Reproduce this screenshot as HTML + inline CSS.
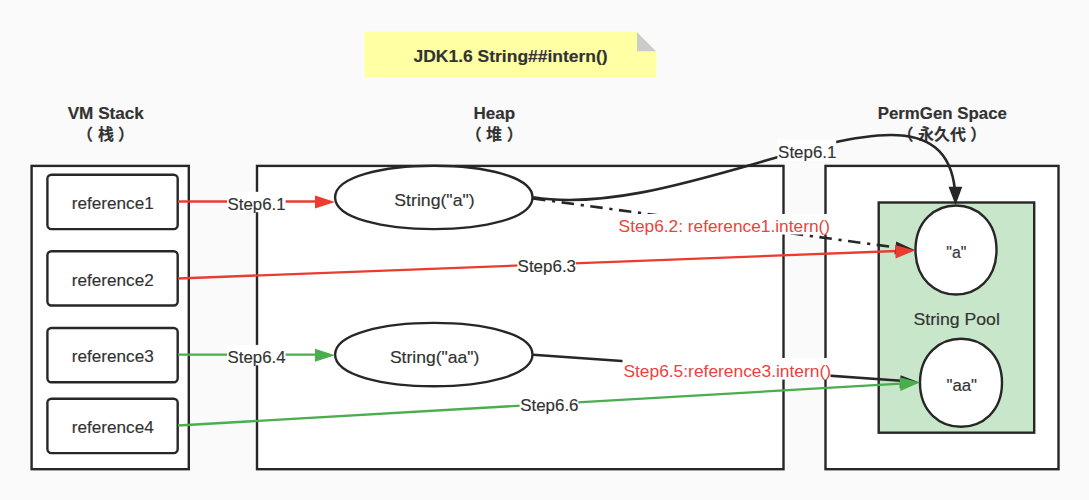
<!DOCTYPE html>
<html>
<head>
<meta charset="utf-8">
<title>JDK1.6 String##intern()</title>
<style>
html,body{margin:0;padding:0;background:#fafafa;}
body{width:1089px;height:500px;overflow:hidden;}
svg{display:block;}
text{font-family:"Liberation Sans","Noto Sans CJK SC",sans-serif;fill:#323232;stroke:#323232;stroke-width:0.15px;font-size:16.6px;}
.b{font-weight:bold;}
.c{font-weight:bold;font-size:16px;}
.r{fill:#e8443c;stroke:none;}
.box{fill:#fff;stroke:#272727;stroke-width:2.4;}
.ln{fill:none;stroke-width:2.3;}
.k{stroke-width:2.6;}
</style>
</head>
<body>
<svg width="1089" height="500" viewBox="0 0 1089 500">
<rect width="1089" height="500" fill="#fafafa"/>

<!-- title note -->
<polygon points="364.3,31.8 636.8,31.8 656.4,51.4 656.4,77.3 364.3,77.3" fill="#ffffa3"/>
<polygon points="637,32.2 637,51.2 656,51.2" fill="#cbcbcb"/>

<!-- header second lines -->
<text class="c" x="77.1 98 117.9" y="139.5">（栈）</text>
<text class="c" x="465.7 486 506.8" y="139.5">（堆）</text>
<text class="c" x="897.4 918 934 950 970.3" y="139.5">（永久代）</text>

<!-- containers -->
<rect class="box" x="31.6" y="165.9" width="157.2" height="303.3"/>
<rect class="box" x="257" y="165.9" width="526.5" height="303.3"/>
<rect class="box" x="825.5" y="165.9" width="233" height="303.3"/>
<rect class="box" x="878.7" y="202.5" width="155.5" height="230.2" style="fill:#c8e6c9"/>

<!-- stack refs -->
<rect class="box" x="47.4" y="174.8" width="130.3" height="54.3" rx="4"/>
<rect class="box" x="47.4" y="251.2" width="130.3" height="54.3" rx="4"/>
<rect class="box" x="47.4" y="328.0" width="130.3" height="54.3" rx="4"/>
<rect class="box" x="47.4" y="398.8" width="130.3" height="54.3" rx="4"/>

<!-- heap ellipses -->
<path class="box" d="M335.10,197.40 C335.10,155.13 532.50,155.13 532.50,197.40 C532.50,239.67 335.10,239.67 335.10,197.40 Z"/>
<path class="box" d="M335.10,354.60 C335.10,312.33 532.50,312.33 532.50,354.60 C532.50,396.87 335.10,396.87 335.10,354.60 Z"/>

<!-- pool circles -->
<path class="box" d="M915.50,250.00 C915.50,190.67 996.50,190.67 996.50,250.00 C996.50,309.33 915.50,309.33 915.50,250.00 Z"/>
<path class="box" d="M920.00,382.80 C920.00,324.13 1002.00,324.13 1002.00,382.80 C1002.00,441.47 920.00,441.47 920.00,382.80 Z"/>

<text class="b" x="413.50" y="62.00" textLength="194.15" lengthAdjust="spacingAndGlyphs">JDK1.6 String##intern()</text>
<text class="b" x="67.70" y="119.10" textLength="76.20" lengthAdjust="spacingAndGlyphs">VM Stack</text>
<text class="b" x="473.47" y="119.10" textLength="41.67" lengthAdjust="spacingAndGlyphs">Heap</text>
<text class="b" x="877.68" y="119.10" textLength="129.25" lengthAdjust="spacingAndGlyphs">PermGen Space</text>
<text class="t" x="71.77" y="209.20" textLength="81.97" lengthAdjust="spacingAndGlyphs">reference1</text>
<text class="t" x="71.77" y="285.60" textLength="81.97" lengthAdjust="spacingAndGlyphs">reference2</text>
<text class="t" x="71.77" y="362.40" textLength="81.97" lengthAdjust="spacingAndGlyphs">reference3</text>
<text class="t" x="71.77" y="433.20" textLength="81.97" lengthAdjust="spacingAndGlyphs">reference4</text>
<text class="t" x="394.30" y="205.60" textLength="80.36" lengthAdjust="spacingAndGlyphs">String(&quot;a&quot;)</text>
<text class="t" x="389.90" y="362.60" textLength="89.46" lengthAdjust="spacingAndGlyphs">String(&quot;aa&quot;)</text>
<text class="t" x="946.30" y="258.10" textLength="20.00" lengthAdjust="spacingAndGlyphs">&quot;a&quot;</text>
<text class="t" x="946.50" y="391.20" textLength="30.59" lengthAdjust="spacingAndGlyphs">&quot;aa&quot;</text>
<text class="t" x="913.50" y="324.70" textLength="86.33" lengthAdjust="spacingAndGlyphs">String Pool</text>

<!-- connectors -->
<path class="ln" d="M178,201.5 L316,201.5" stroke="#ea3c2f"/>
<path class="ln" d="M178,354.7 L316,354.7" stroke="#4aad4e"/>
<path class="ln k" d="M533.2,197.3 C694.8,223.4 941.0,50.6 954.9,190.0" stroke="#272727"/>
<path class="ln k" d="M533,198.5 L897,247.6" stroke="#272727" stroke-dasharray="12.5 6.7 3.2 6.5"/>
<path class="ln k" d="M533,354.7 L901,380.7" stroke="#272727"/>
<path class="ln" d="M178,278.5 L897,251" stroke="#ea3c2f"/>
<path class="ln" d="M178,425.5 L901,383.6" stroke="#4aad4e"/>

<rect x="227" y="191.8" width="58.60" height="20.40" fill="#fff"/>
<text class="t" x="227.60" y="209.50" textLength="57.93" lengthAdjust="spacingAndGlyphs">Step6.1</text>
<rect x="227" y="344.9" width="58.60" height="20.40" fill="#fff"/>
<text class="t" x="227.60" y="362.50" textLength="57.93" lengthAdjust="spacingAndGlyphs">Step6.4</text>
<rect x="777.4" y="139.5" width="58.80" height="21.00" fill="#fff"/>
<text class="t" x="778.10" y="157.60" textLength="58.33" lengthAdjust="spacingAndGlyphs">Step6.1</text>
<rect x="517.3" y="255" width="58.50" height="21.00" fill="#fff"/>
<text class="t" x="517.60" y="272.30" textLength="58.43" lengthAdjust="spacingAndGlyphs">Step6.3</text>
<rect x="519.6" y="394" width="58.70" height="21.00" fill="#fff"/>
<text class="t" x="520.20" y="411.40" textLength="58.33" lengthAdjust="spacingAndGlyphs">Step6.6</text>
<rect x="617.5" y="214" width="212.50" height="20.50" fill="#fff"/>
<text class="t r" x="618.60" y="232.00" textLength="211.45" lengthAdjust="spacingAndGlyphs">Step6.2: reference1.intern()</text>
<rect x="622.5" y="358" width="208.00" height="21.60" fill="#fff"/>
<text class="t r" x="623.40" y="377.00" textLength="207.65" lengthAdjust="spacingAndGlyphs">Step6.5:reference3.intern()</text>

<!-- arrowheads -->
<polygon points="335,202 315,195.5 315,208.5" fill="#ea3c2f"/>
<polygon points="335,355.3 315,348.8 315,361.8" fill="#4aad4e"/>
<polygon points="955.5,205 948.5,186.8 962.3,186.8" fill="#272727"/>
<polygon points="915.2,250.3 896.2,241.4 894.5,254.3" fill="#272727"/>
<polygon points="915.2,250.4 895.0,244.9 895.6,258.4" fill="#ea3c2f"/>
<polygon points="919.6,382.4 900.6,375.2 899.6,388.0" fill="#272727"/>
<polygon points="919.8,382.4 899.6,377.2 900.4,391.0" fill="#4aad4e"/>
</svg>
</body>
</html>
